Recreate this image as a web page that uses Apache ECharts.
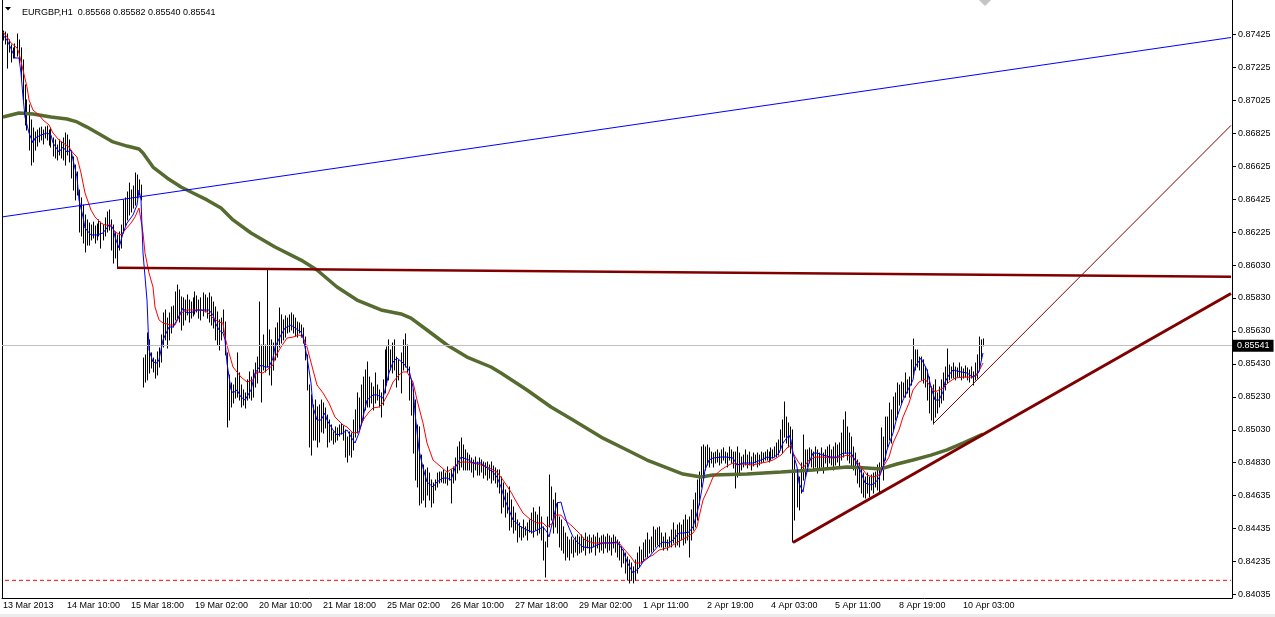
<!DOCTYPE html>
<html>
<head>
    <meta charset="utf-8">
    <title>EURGBP,H1</title>
    <script src="https://cdn.jsdelivr.net/npm/echarts@6/dist/echarts.min.js"></script>
    <style>
        html, body { margin: 0; padding: 0; background: #fff; }
        #main { width: 1275px; height: 617px; }
    </style>
</head>
<body>
<div id="main"></div>
<script type="text/javascript">
    // last bar: open, high, low, close
    var lastBar = [0.85568, 0.85582, 0.85540, 0.85541];

    var xLabels = ['13 Mar 2013', '14 Mar 10:00', '15 Mar 18:00', '19 Mar 02:00', '20 Mar 10:00', '21 Mar 18:00',
        '25 Mar 02:00', '26 Mar 10:00', '27 Mar 18:00', '29 Mar 02:00', '1 Apr 11:00', '2 Apr 19:00',
        '4 Apr 03:00', '5 Apr 11:00', '8 Apr 19:00', '10 Apr 03:00'];
    var barsPerLabel = 32;

    var priceLabels = ['0.84035', '0.84235', '0.84435', '0.84635', '0.84830', '0.85030', '0.85230', '0.85430', '0.85630',
        '0.85830', '0.86030', '0.86225', '0.86425', '0.86625', '0.86825', '0.87025', '0.87225', '0.87425'];
    var priceBase = 0.84035, priceStep = 0.0019941;
    var yMin = 0.84014, yMax = 0.87633;
    var slotCount = 615;

    var barHigh = [
        0.87445,0.87439,0.87427,0.87391,0.87361,0.87343,0.87367,0.87427,0.87391,0.87343,
        0.87270,0.87119,0.87028,0.86998,0.86907,0.86858,0.86834,0.86846,0.86858,0.86864,
        0.86846,0.86864,0.86870,0.86846,0.86858,0.86798,0.86786,0.86755,0.86786,0.86774,
        0.86798,0.86828,0.86816,0.86786,0.86713,0.86683,0.86634,0.86592,0.86483,0.86435,
        0.86392,0.86332,0.86302,0.86283,0.86271,0.86289,0.86265,0.86277,0.86302,0.86289,
        0.86271,0.86314,0.86350,0.86362,0.86302,0.86271,0.86229,0.86211,0.86229,0.86271,
        0.86423,0.86435,0.86471,0.86525,0.86483,0.86507,0.86586,0.86574,0.86544,0.86513,
        0.85466,0.85485,0.85618,0.85576,0.85497,0.85466,0.85455,0.85503,0.85527,0.85606,
        0.85739,0.85757,0.85708,0.85739,0.85775,0.85781,0.85866,0.85908,0.85878,0.85836,
        0.85830,0.85817,0.85848,0.85817,0.85805,0.85830,0.85866,0.85842,0.85817,0.85830,
        0.85860,0.85848,0.85830,0.85860,0.85836,0.85805,0.85775,0.85745,0.85697,0.85708,
        0.85757,0.85684,0.85497,0.85364,0.85315,0.85303,0.85345,0.85497,0.85376,0.85303,
        0.85273,0.85255,0.85334,0.85382,0.85351,0.85394,0.85436,0.85472,0.85805,0.85545,
        0.85606,0.85545,0.86005,0.85636,0.85576,0.85557,0.85648,0.85678,0.85769,0.85727,
        0.85697,0.85721,0.85708,0.85727,0.85739,0.85727,0.85708,0.85684,0.85678,0.85666,
        0.85648,0.85593,0.85485,0.85303,0.85243,0.85182,0.85212,0.85170,0.85182,0.85212,
        0.85194,0.85164,0.85121,0.85091,0.85061,0.85019,0.85049,0.85043,0.85061,0.85067,
        0.85055,0.85031,0.84988,0.85019,0.85012,0.85091,0.85152,0.85255,0.85224,0.85303,
        0.85351,0.85394,0.85442,0.85351,0.85315,0.85291,0.85376,0.85303,0.85273,0.85255,
        0.85334,0.85515,0.85533,0.85576,0.85515,0.85557,0.85576,0.85472,0.85455,0.85497,
        0.85576,0.85612,0.85545,0.85412,0.85334,0.85273,0.85212,0.85061,0.85049,0.84879,
        0.84819,0.84789,0.84801,0.84770,0.84728,0.84710,0.84728,0.84770,0.84776,0.84776,
        0.84789,0.84770,0.84807,0.84770,0.84789,0.84807,0.84861,0.84928,0.84958,0.84982,
        0.84940,0.84910,0.84891,0.84879,0.84861,0.84849,0.84867,0.84837,0.84861,0.84849,
        0.84837,0.84831,0.84837,0.84819,0.84837,0.84813,0.84801,0.84789,0.84789,0.84746,
        0.84710,0.84668,0.84649,0.84686,0.84607,0.84565,0.84528,0.84486,0.84468,0.84444,
        0.84486,0.84444,0.84468,0.84486,0.84528,0.84559,0.84534,0.84516,0.84565,0.84504,
        0.84444,0.84353,0.84504,0.84758,0.84686,0.84607,0.84649,0.84589,0.84504,0.84486,
        0.84444,0.84407,0.84383,0.84365,0.84383,0.84365,0.84383,0.84395,0.84383,0.84395,
        0.84377,0.84407,0.84383,0.84395,0.84377,0.84395,0.84383,0.84407,0.84377,0.84389,
        0.84395,0.84383,0.84401,0.84389,0.84377,0.84395,0.84383,0.84365,0.84353,0.84323,
        0.84304,0.84286,0.84262,0.84244,0.84226,0.84202,0.84244,0.84286,0.84323,0.84304,
        0.84347,0.84365,0.84407,0.84365,0.84383,0.84444,0.84425,0.84438,0.84444,0.84407,
        0.84383,0.84407,0.84365,0.84383,0.84425,0.84468,0.84425,0.84456,0.84468,0.84456,
        0.84486,0.84516,0.84486,0.84504,0.84547,0.84607,0.84649,0.84728,0.84776,0.84928,
        0.84940,0.84928,0.84940,0.84922,0.84897,0.84891,0.84897,0.84910,0.84891,0.84910,
        0.84922,0.84897,0.84891,0.84928,0.84910,0.84897,0.84897,0.84928,0.84891,0.84867,
        0.84879,0.84910,0.84879,0.84897,0.84867,0.84891,0.84879,0.84891,0.84879,0.84897,
        0.84891,0.84897,0.84910,0.84897,0.84922,0.84910,0.84928,0.84952,0.84970,0.85031,
        0.85091,0.85200,0.85109,0.85073,0.85049,0.85031,0.84849,0.84789,0.84746,0.84831,
        0.85000,0.84910,0.84910,0.84922,0.84910,0.84897,0.84928,0.84910,0.84891,0.84922,
        0.84891,0.84910,0.84928,0.84940,0.84910,0.84928,0.84952,0.84940,0.84952,0.85012,
        0.85091,0.85140,0.85049,0.85012,0.84988,0.84928,0.84891,0.84849,0.84831,0.84807,
        0.84770,0.84746,0.84770,0.84746,0.84758,0.84770,0.84776,0.84819,0.84831,0.85043,
        0.84988,0.85109,0.85109,0.85194,0.85152,0.85230,0.85255,0.85315,0.85303,0.85321,
        0.85315,0.85376,0.85334,0.85351,0.85455,0.85581,0.85515,0.85515,0.85472,0.85472,
        0.85455,0.85412,0.85394,0.85351,0.85291,0.85303,0.85334,0.85255,0.85291,0.85334,
        0.85376,0.85412,0.85521,0.85424,0.85412,0.85436,0.85412,0.85406,0.85436,0.85412,
        0.85400,0.85418,0.85406,0.85394,0.85412,0.85382,0.85436,0.85485,0.85593,0.85576,
        0.85582
    ];
    var barLow = [
        0.87391,0.87367,0.87221,0.87318,0.87258,0.87282,0.87282,0.87294,0.87258,0.87149,
        0.87028,0.86876,0.86846,0.86725,0.86634,0.86653,0.86725,0.86749,0.86774,0.86786,
        0.86762,0.86798,0.86786,0.86755,0.86743,0.86689,0.86677,0.86665,0.86695,0.86677,
        0.86665,0.86634,0.86695,0.86653,0.86556,0.86483,0.86423,0.86453,0.86229,0.86205,
        0.86162,0.86108,0.86150,0.86150,0.86181,0.86193,0.86162,0.86181,0.86205,0.86132,
        0.86181,0.86205,0.86229,0.86241,0.86120,0.86041,0.86072,0.86011,0.86120,0.86132,
        0.86223,0.86265,0.86302,0.86332,0.86350,0.86374,0.86392,0.86435,0.86453,0.86423,
        0.85291,0.85321,0.85334,0.85376,0.85406,0.85382,0.85345,0.85364,0.85412,0.85442,
        0.85533,0.85576,0.85527,0.85576,0.85618,0.85654,0.85697,0.85708,0.85684,0.85636,
        0.85666,0.85697,0.85727,0.85684,0.85708,0.85721,0.85733,0.85745,0.85708,0.85697,
        0.85721,0.85745,0.85708,0.85684,0.85666,0.85648,0.85576,0.85545,0.85515,0.85576,
        0.85624,0.85485,0.85049,0.85091,0.85170,0.85194,0.85224,0.85230,0.85212,0.85170,
        0.85182,0.85164,0.85212,0.85224,0.85212,0.85230,0.85291,0.85315,0.85382,0.85200,
        0.85394,0.85382,0.85412,0.85364,0.85303,0.85394,0.85455,0.85472,0.85533,0.85557,
        0.85576,0.85593,0.85618,0.85624,0.85636,0.85618,0.85600,0.85593,0.85618,0.85593,
        0.85557,0.85455,0.85273,0.84928,0.84879,0.84970,0.84970,0.84928,0.84958,0.85019,
        0.85012,0.85043,0.84928,0.84958,0.84970,0.84946,0.84958,0.84970,0.84994,0.85006,
        0.84970,0.84867,0.84837,0.84879,0.84867,0.84910,0.84988,0.85012,0.85031,0.85061,
        0.85091,0.85152,0.85170,0.85170,0.85194,0.85152,0.85194,0.85212,0.85170,0.85109,
        0.85182,0.85255,0.85303,0.85334,0.85394,0.85376,0.85394,0.85291,0.85334,0.85255,
        0.85394,0.85412,0.85382,0.85212,0.85121,0.84891,0.84728,0.84686,0.84577,0.84589,
        0.84607,0.84565,0.84637,0.84607,0.84565,0.84589,0.84668,0.84686,0.84710,0.84716,
        0.84710,0.84710,0.84698,0.84728,0.84589,0.84710,0.84728,0.84770,0.84789,0.84807,
        0.84789,0.84789,0.84789,0.84789,0.84776,0.84746,0.84789,0.84758,0.84758,0.84776,
        0.84740,0.84758,0.84728,0.84740,0.84710,0.84728,0.84710,0.84686,0.84649,0.84528,
        0.84565,0.84504,0.84528,0.84425,0.84444,0.84407,0.84425,0.84353,0.84383,0.84365,
        0.84383,0.84395,0.84365,0.84413,0.84407,0.84383,0.84425,0.84395,0.84407,0.84365,
        0.84244,0.84141,0.84323,0.84444,0.84486,0.84407,0.84444,0.84407,0.84323,0.84304,
        0.84286,0.84244,0.84262,0.84244,0.84286,0.84262,0.84292,0.84274,0.84286,0.84292,
        0.84304,0.84274,0.84317,0.84286,0.84292,0.84323,0.84274,0.84317,0.84292,0.84304,
        0.84286,0.84317,0.84292,0.84304,0.84274,0.84317,0.84292,0.84262,0.84244,0.84202,
        0.84226,0.84165,0.84123,0.84105,0.84123,0.84105,0.84123,0.84165,0.84202,0.84226,
        0.84244,0.84262,0.84262,0.84286,0.84292,0.84304,0.84323,0.84335,0.84323,0.84323,
        0.84304,0.84323,0.84304,0.84323,0.84323,0.84347,0.84323,0.84335,0.84323,0.84365,
        0.84335,0.84347,0.84365,0.84262,0.84365,0.84425,0.84444,0.84486,0.84577,0.84686,
        0.84728,0.84789,0.84819,0.84807,0.84831,0.84807,0.84831,0.84837,0.84819,0.84831,
        0.84849,0.84831,0.84807,0.84849,0.84831,0.84801,0.84680,0.84746,0.84770,0.84789,
        0.84807,0.84819,0.84801,0.84819,0.84789,0.84813,0.84831,0.84807,0.84819,0.84831,
        0.84837,0.84849,0.84849,0.84837,0.84849,0.84861,0.84867,0.84867,0.84879,0.84910,
        0.84891,0.84988,0.84952,0.84928,0.84891,0.84353,0.84486,0.84565,0.84547,0.84649,
        0.84728,0.84746,0.84807,0.84831,0.84807,0.84789,0.84807,0.84770,0.84789,0.84807,
        0.84770,0.84831,0.84801,0.84831,0.84819,0.84789,0.84819,0.84837,0.84807,0.84849,
        0.84867,0.84891,0.84849,0.84831,0.84807,0.84789,0.84758,0.84710,0.84686,0.84649,
        0.84625,0.84619,0.84649,0.84625,0.84668,0.84649,0.84686,0.84668,0.84649,0.84789,
        0.84728,0.84849,0.84928,0.84970,0.84952,0.85031,0.85091,0.85109,0.85182,0.85194,
        0.85230,0.85230,0.85255,0.85230,0.85303,0.85351,0.85394,0.85412,0.85394,0.85334,
        0.85315,0.85291,0.85212,0.85134,0.85091,0.85067,0.85109,0.85134,0.85170,0.85194,
        0.85212,0.85273,0.85315,0.85334,0.85345,0.85345,0.85334,0.85351,0.85351,0.85334,
        0.85345,0.85351,0.85334,0.85321,0.85345,0.85303,0.85334,0.85345,0.85394,0.85455,
        0.85540
    ];

    // indicator lines, vertices: [bar slot, price]
    var maFast = [[0,0.87421],[2,0.87391],[5,0.87312],[6,0.87282],[8,0.87282],[9,0.87191],[10,0.87046],[11,0.86925],[13,0.86828],[15,0.86768],[16,0.86798],[19,0.86816],[22,0.86828],[24,0.86816],[25,0.86768],[28,0.86713],[30,0.86743],[32,0.86713],[34,0.86725],[35,0.86665],[37,0.86562],[38,0.86423],[40,0.86320],[41,0.86253],[44,0.86211],[47,0.86211],[50,0.86223],[53,0.86271],[55,0.86253],[56,0.86199],[58,0.86132],[60,0.86223],[62,0.86283],[65,0.86332],[67,0.86392],[68,0.86483],[69,0.86423],[70,0.86102],[72,0.85817],[73,0.85515],[75,0.85442],[77,0.85436],[78,0.85455],[80,0.85576],[83,0.85654],[85,0.85654],[87,0.85697],[90,0.85769],[92,0.85739],[95,0.85745],[97,0.85757],[100,0.85757],[103,0.85757],[105,0.85727],[106,0.85684],[108,0.85636],[110,0.85618],[111,0.85576],[112,0.85436],[114,0.85273],[115,0.85255],[117,0.85273],[119,0.85230],[121,0.85212],[124,0.85273],[126,0.85376],[129,0.85424],[131,0.85412],[133,0.85412],[135,0.85466],[136,0.85533],[139,0.85606],[141,0.85648],[144,0.85666],[146,0.85648],[149,0.85624],[150,0.85593],[152,0.85472],[154,0.85315],[155,0.85170],[157,0.85091],[159,0.85091],[161,0.85134],[162,0.85091],[165,0.85031],[167,0.85000],[170,0.85012],[172,0.85031],[175,0.84970],[176,0.84952],[178,0.85012],[180,0.85109],[182,0.85212],[185,0.85243],[187,0.85243],[190,0.85224],[191,0.85273],[193,0.85376],[195,0.85442],[197,0.85466],[200,0.85436],[201,0.85424],[203,0.85394],[205,0.85291],[206,0.85134],[208,0.84910],[210,0.84801],[212,0.84716],[215,0.84686],[217,0.84716],[220,0.84740],[222,0.84740],[224,0.84728],[226,0.84801],[229,0.84867],[230,0.84879],[233,0.84849],[235,0.84831],[239,0.84831],[242,0.84801],[245,0.84776],[247,0.84746],[249,0.84686],[251,0.84607],[253,0.84547],[255,0.84486],[259,0.84444],[262,0.84425],[265,0.84413],[267,0.84425],[270,0.84444],[272,0.84413],[273,0.84383],[275,0.84486],[277,0.84589],[279,0.84595],[280,0.84547],[282,0.84468],[285,0.84383],[287,0.84353],[290,0.84323],[294,0.84317],[297,0.84335],[300,0.84347],[304,0.84347],[307,0.84353],[310,0.84304],[312,0.84232],[315,0.84165],[316,0.84153],[318,0.84195],[320,0.84232],[323,0.84262],[325,0.84292],[328,0.84335],[330,0.84353],[333,0.84347],[335,0.84365],[338,0.84407],[340,0.84407],[343,0.84413],[345,0.84444],[347,0.84528],[348,0.84577],[350,0.84710],[351,0.84789],[353,0.84849],[355,0.84861],[359,0.84867],[362,0.84867],[365,0.84861],[367,0.84819],[370,0.84831],[372,0.84831],[375,0.84831],[379,0.84849],[382,0.84867],[385,0.84861],[388,0.84891],[390,0.84952],[393,0.85000],[394,0.84970],[395,0.84891],[397,0.84807],[398,0.84710],[400,0.84655],[401,0.84728],[403,0.84831],[405,0.84891],[407,0.84891],[410,0.84879],[414,0.84867],[417,0.84867],[420,0.84891],[424,0.84891],[426,0.84849],[429,0.84776],[431,0.84710],[434,0.84698],[436,0.84710],[438,0.84740],[440,0.84807],[442,0.84910],[445,0.85012],[447,0.85109],[450,0.85212],[452,0.85261],[455,0.85334],[456,0.85412],[459,0.85466],[460,0.85442],[462,0.85394],[464,0.85291],[466,0.85212],[468,0.85212],[470,0.85261],[471,0.85321],[473,0.85364],[475,0.85394],[479,0.85382],[482,0.85376],[485,0.85351],[486,0.85345],[488,0.85382],[489,0.85442],[490,0.85497]];

    var maSlow = [[0,0.87439],[2,0.87409],[4,0.87373],[7,0.87343],[8,0.87312],[10,0.87209],[12,0.87106],[13,0.87028],[15,0.86967],[18,0.86937],[20,0.86907],[23,0.86877],[25,0.86828],[28,0.86786],[30,0.86768],[33,0.86743],[35,0.86707],[37,0.86683],[39,0.86586],[41,0.86465],[44,0.86362],[46,0.86320],[49,0.86283],[51,0.86271],[54,0.86271],[56,0.86229],[59,0.86211],[61,0.86241],[64,0.86283],[66,0.86320],[68,0.86374],[69,0.86362],[70,0.86223],[71,0.86102],[73,0.85981],[75,0.85896],[76,0.85775],[78,0.85697],[80,0.85678],[84,0.85666],[86,0.85666],[89,0.85739],[92,0.85757],[95,0.85757],[99,0.85757],[102,0.85745],[105,0.85708],[108,0.85684],[110,0.85678],[111,0.85593],[113,0.85497],[115,0.85412],[119,0.85351],[122,0.85321],[125,0.85334],[127,0.85382],[130,0.85376],[132,0.85394],[135,0.85424],[136,0.85472],[139,0.85533],[142,0.85587],[145,0.85593],[148,0.85606],[150,0.85593],[152,0.85533],[155,0.85394],[157,0.85303],[160,0.85255],[163,0.85194],[166,0.85109],[170,0.85061],[172,0.85049],[175,0.85012],[178,0.85019],[180,0.85091],[183,0.85140],[185,0.85164],[188,0.85170],[190,0.85194],[193,0.85261],[195,0.85321],[198,0.85364],[200,0.85382],[202,0.85382],[205,0.85321],[207,0.85212],[210,0.85073],[212,0.84952],[215,0.84849],[219,0.84807],[222,0.84776],[225,0.84801],[229,0.84837],[232,0.84837],[235,0.84831],[239,0.84819],[243,0.84801],[247,0.84776],[250,0.84728],[254,0.84655],[257,0.84589],[260,0.84528],[264,0.84486],[267,0.84468],[270,0.84468],[272,0.84444],[275,0.84468],[276,0.84516],[279,0.84516],[281,0.84486],[285,0.84444],[288,0.84407],[291,0.84365],[295,0.84347],[299,0.84347],[304,0.84347],[308,0.84347],[311,0.84304],[314,0.84262],[316,0.84226],[319,0.84226],[321,0.84250],[325,0.84274],[328,0.84304],[332,0.84317],[335,0.84335],[339,0.84365],[342,0.84383],[345,0.84407],[347,0.84444],[348,0.84504],[350,0.84607],[353,0.84686],[355,0.84746],[359,0.84789],[362,0.84813],[365,0.84831],[367,0.84819],[370,0.84825],[375,0.84819],[379,0.84831],[382,0.84837],[385,0.84849],[389,0.84879],[392,0.84922],[394,0.84940],[395,0.84891],[398,0.84831],[400,0.84801],[403,0.84849],[406,0.84867],[410,0.84867],[415,0.84861],[419,0.84867],[422,0.84879],[425,0.84867],[429,0.84807],[432,0.84758],[435,0.84746],[438,0.84758],[440,0.84807],[443,0.84867],[445,0.84952],[448,0.85031],[450,0.85109],[453,0.85194],[455,0.85273],[458,0.85321],[461,0.85339],[464,0.85291],[466,0.85261],[470,0.85285],[473,0.85321],[476,0.85345],[480,0.85351],[485,0.85351],[487,0.85364],[489,0.85412],[490,0.85436]];

    var maLong = [[0,0.86925],[4,0.86937],[8,0.86949],[15,0.86943],[24,0.86925],[32,0.86913],[37,0.86895],[42,0.86864],[49,0.86816],[55,0.86774],[62,0.86749],[68,0.86731],[70,0.86707],[75,0.86622],[82,0.86556],[89,0.86501],[95,0.86465],[102,0.86423],[109,0.86374],[115,0.86302],[124,0.86223],[136,0.86138],[149,0.86059],[157,0.85999],[167,0.85896],[177,0.85817],[189,0.85757],[199,0.85733],[204,0.85708],[212,0.85636],[222,0.85545],[232,0.85472],[244,0.85412],[249,0.85376],[262,0.85273],[274,0.85170],[285,0.85091],[299,0.84988],[312,0.84910],[322,0.84849],[332,0.84801],[340,0.84764],[349,0.84746],[355,0.84758],[372,0.84764],[389,0.84776],[405,0.84789],[422,0.84807],[432,0.84801],[439,0.84795],[447,0.84825],[455,0.84849],[464,0.84879],[472,0.84910],[480,0.84952],[490,0.85006]];

    // drawn objects
    var trendBlue = [[0, 0.86321], [614, 0.87406]];
    var levelMaroon = [[57, 0.86013], [614, 0.85958]];
    var supportMaroon = [[395, 0.84350], [614, 0.85857]];
    var channelMaroon = [[465, 0.85067], [614, 0.86874]];
    var lowLevel = [[1, 0.84121], [614, 0.84121]];

    var slots = [];
    for (var s = 0; s < slotCount; s++) { slots.push(String(s)); }
    var barData = barHigh.map(function (h, i) { return [i, barLow[i], h]; });
    var tickValues = priceLabels.map(function (t, k) { return priceBase + k * priceStep; });

    var font = "'Liberation Sans', Arial, sans-serif";
    var myChart = echarts.init(document.getElementById('main'));

    var renderBar = function (params, api) {
        var lo = api.coord([api.value(0), api.value(1)]);
        var hi = api.coord([api.value(0), api.value(2)]);
        var x = Math.floor(lo[0]) + 0.5;
        return {
            type: 'line',
            shape: { x1: x, y1: lo[1] + 0.5, x2: x, y2: hi[1] - 0.5 },
            style: { stroke: '#000', lineWidth: 1 }
        };
    };

    var onLabel = function (i) { return i % barsPerLabel === 0 && i / barsPerLabel < xLabels.length; };

    var option = {
        animation: false,
        backgroundColor: '#fff',
        title: {
            text: 'EURGBP,H1  ' + lastBar.map(function (v) { return v.toFixed(5); }).join(' '),
            left: 17, top: 3,
            textStyle: { fontSize: 9, fontWeight: 'normal', color: '#000', fontFamily: font }
        },
        graphic: [
            { type: 'polygon', shape: { points: [[5, 7], [11, 7], [8, 10.5]] }, style: { fill: '#000' } },
            { type: 'polygon', shape: { points: [[979, 0], [991, 0], [985, 6]] }, style: { fill: '#c4c4c4' } },
            { type: 'rect', shape: { x: 0, y: 614, width: 1275, height: 3 }, style: { fill: '#ececec' } }
        ],
        grid: { left: 2, right: 43, top: 0, bottom: 19, containLabel: false },
        xAxis: {
            type: 'category',
            data: slots,
            boundaryGap: true,
            axisLine: { lineStyle: { color: '#000', width: 1 } },
            axisTick: { interval: onLabel, length: 4, lineStyle: { color: '#000' } },
            axisLabel: {
                interval: onLabel,
                formatter: function (v, i) { return xLabels[i / barsPerLabel] || ''; },
                align: 'left', margin: 3, color: '#000', fontSize: 9, fontFamily: font
            },
            splitLine: { show: false }
        },
        yAxis: [
            {
                type: 'value', position: 'right', min: yMin, max: yMax, scale: true,
                axisLine: { show: true, lineStyle: { color: '#000', width: 1 } },
                axisTick: { show: true, length: 4, customValues: tickValues, lineStyle: { color: '#000' } },
                axisLabel: {
                    customValues: tickValues, margin: 6, color: '#000', fontSize: 9, fontFamily: font,
                    formatter: function (v) { return priceLabels[Math.round((v - priceBase) / priceStep)] || ''; }
                },
                splitLine: { show: false }
            },
            {
                type: 'value', position: 'left', min: yMin, max: yMax, scale: true,
                axisLine: { show: true, lineStyle: { color: '#000', width: 1 } },
                axisTick: { show: false }, axisLabel: { show: false }, splitLine: { show: false }
            }
        ],
        series: [
            {
                type: 'line', data: lowLevel, showSymbol: false, symbol: 'none', silent: true, z: 1,
                lineStyle: { color: '#ff0000', width: 1, type: [4, 3] },
                markLine: {
                    silent: true, symbol: ['none', 'none'], animation: false, precision: 5,
                    lineStyle: { color: '#c0c0c0', width: 1, type: 'solid' },
                    label: {
                        show: true, position: 'end', distance: 1,
                        formatter: lastBar[3].toFixed(5),
                        backgroundColor: '#000', color: '#fff', padding: [2, 4, 1, 4],
                        fontSize: 9, fontFamily: font
                    },
                    data: [{ yAxis: lastBar[3] }]
                }
            },
            {
                type: 'custom', data: barData, renderItem: renderBar, silent: true, z: 2,
                encode: { x: 0, y: [1, 2] }
            },
            { type: 'line', data: maLong, showSymbol: false, symbol: 'none', silent: true, z: 3,
              lineStyle: { color: '#556b2f', width: 3.5 } },
            { type: 'line', data: maSlow, showSymbol: false, symbol: 'none', silent: true, z: 4,
              lineStyle: { color: '#ff0000', width: 1 } },
            { type: 'line', data: maFast, showSymbol: false, symbol: 'none', silent: true, z: 5,
              lineStyle: { color: '#0000ff', width: 1 } },
            { type: 'line', data: trendBlue, showSymbol: false, symbol: 'none', silent: true, z: 6,
              lineStyle: { color: '#0000ff', width: 1 } },
            { type: 'line', data: levelMaroon, showSymbol: false, symbol: 'none', silent: true, z: 6,
              lineStyle: { color: '#800000', width: 2.5 } },
            { type: 'line', data: supportMaroon, showSymbol: false, symbol: 'none', silent: true, z: 6,
              lineStyle: { color: '#800000', width: 3 } },
            { type: 'line', data: channelMaroon, showSymbol: false, symbol: 'none', silent: true, z: 6,
              lineStyle: { color: '#800000', width: 1 } }
        ]
    };
    myChart.setOption(option);
    window.onresize = myChart.resize;
</script>
</body>
</html>
